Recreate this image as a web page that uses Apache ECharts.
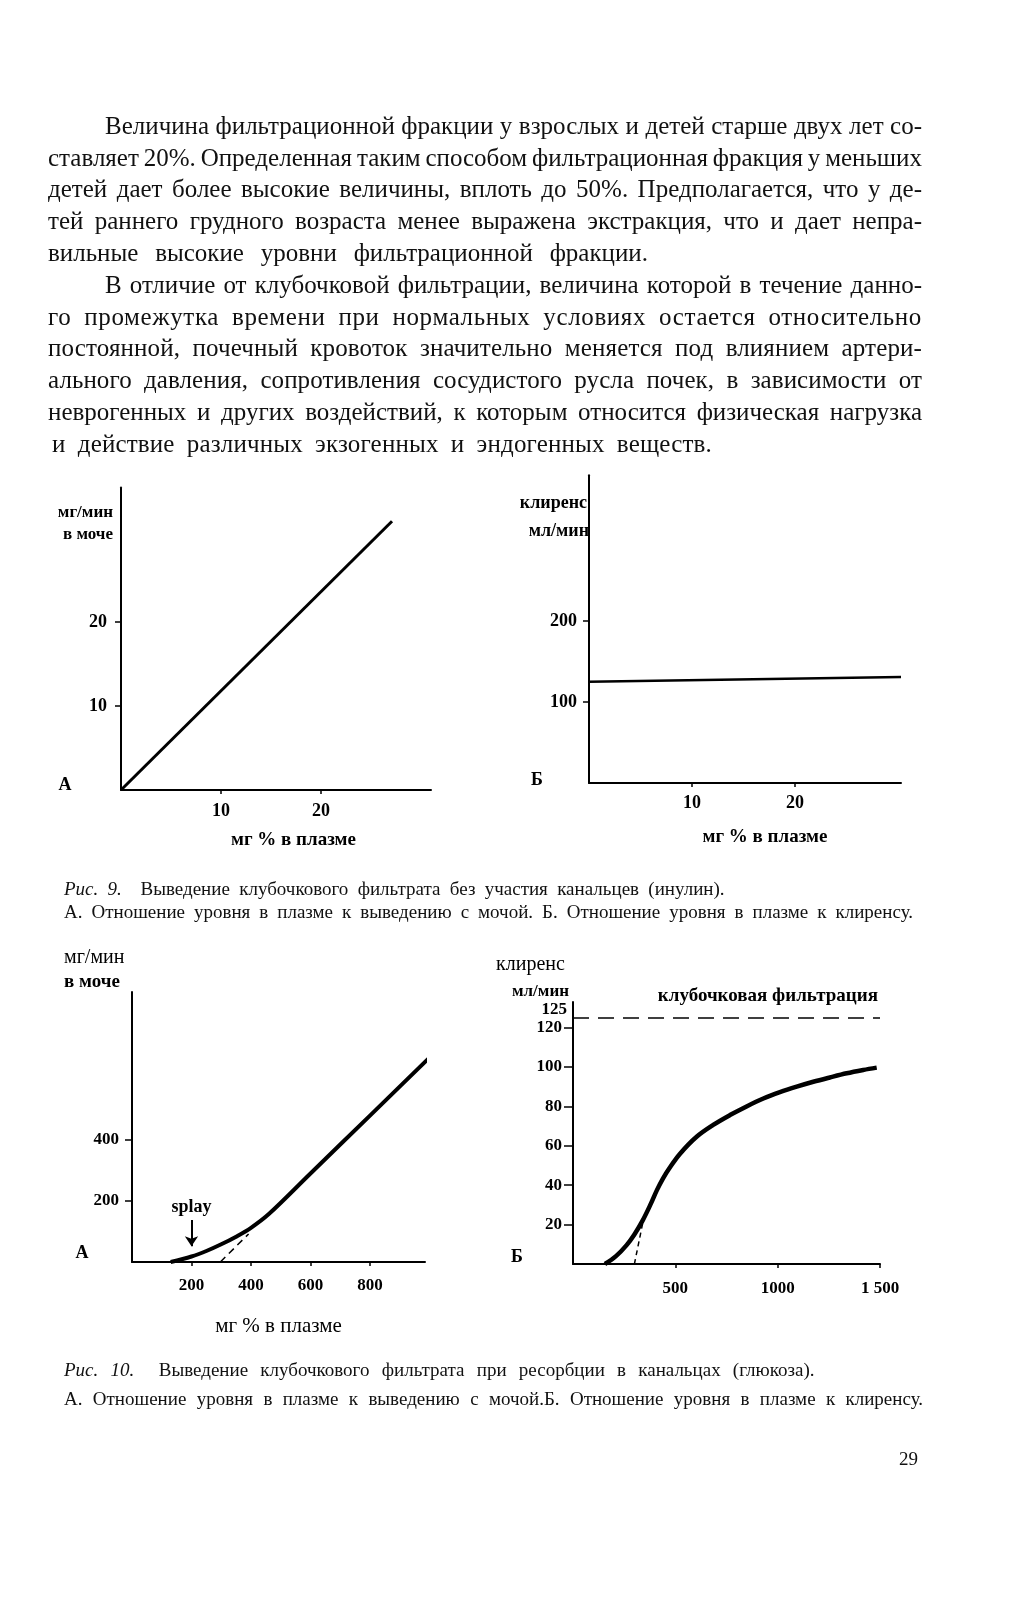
<!DOCTYPE html>
<html><head><meta charset="utf-8">
<script src="https://cdn.jsdelivr.net/npm/echarts@6/dist/echarts.min.js"></script>
<style>
html,body{margin:0;padding:0;background:#fff;}
#page{position:relative;width:1016px;height:1613px;overflow:hidden;background:#fff;}
#chart{position:absolute;left:0;top:0;width:1016px;height:1613px;}
#txt{position:absolute;left:0;top:0;width:1016px;height:1613px;pointer-events:none;}
.ln{position:absolute;white-space:nowrap;color:#111;font-family:"Liberation Serif","Times New Roman",serif;transform-origin:0 50%;}
</style></head><body>
<div id="page"><div id="chart"></div><div id="txt"></div></div>
<script>
// ---------------- DATA ----------------
const paragraph1 = [
  'Величина фильтрационной фракции у взрослых и детей старше двух лет со-',
  'ставляет 20%. Определенная таким способом фильтрационная фракция у меньших',
  'детей дает более высокие величины, вплоть до 50%. Предполагается, что у де-',
  'тей раннего грудного возраста менее выражена экстракция, что и дает непра-',
  'вильные высокие уровни фильтрационной фракции.'
];
const paragraph2 = [
  'В отличие от клубочковой фильтрации, величина которой в течение данно-',
  'го промежутка времени при нормальных условиях остается относительно',
  'постоянной, почечный кровоток значительно меняется под влиянием артери-',
  'ального давления, сопротивления сосудистого русла почек, в зависимости от',
  'неврогенных и других воздействий, к которым относится физическая нагрузка',
  'и действие различных экзогенных и эндогенных веществ.'
];
const fig9Title = 'Рис. 9.';
const fig9Text = 'Выведение клубочкового фильтрата без участия канальцев (инулин).';
const fig9Legend = 'А. Отношение уровня в плазме к выведению с мочой. Б. Отношение уровня в плазме к клиренсу.';
const fig10Title = 'Рис. 10.';
const fig10Text = 'Выведение клубочкового фильтрата при ресорбции в канальцах (глюкоза).';
const fig10Legend = 'А. Отношение уровня в плазме к выведению с мочой.Б. Отношение уровня в плазме к клиренсу.';
const pageNumber = '29';

// Fig. 9A: excretion (mg/min in urine) vs plasma level (mg %)
const fig9aLine = [[0, 0], [27.1, 32.0]];
const fig9aXTicks = [10, 20];
const fig9aYTicks = [10, 20];
const fig9aYName = ['мг/мин', 'в моче'];
const fig9aXName = 'мг % в плазме';

// Fig. 9Б: clearance (ml/min) vs plasma level
const fig9bLine = [[0, 125], [30.3, 131]];
const fig9bXTicks = [10, 20];
const fig9bYTicks = [100, 200];
const fig9bYName = ['клиренс', 'мл/мин'];
const fig9bXName = 'мг % в плазме';

// Fig. 10A: glucose excretion vs plasma level
const fig10aCurve = [[130, 0], [200, 18], [250, 36], [300, 58], [350, 83], [400, 112], [460, 157], [600, 290], [800, 480], [1042, 710]];
const fig10aDashed = [[297, 0], [392, 92]];
const fig10aSplay = [[200, 138], [200, 52]];
const fig10aXTicks = [200, 400, 600, 800];
const fig10aYTicks = [200, 400];
const fig10aYName = ['мг/мин', 'в моче'];
const fig10aXName = 'мг % в плазме';

// Fig. 10Б: glucose clearance vs plasma level
const fig10bCurve = [[156, 0], [210, 4], [262, 9.6], [300, 15], [340, 22], [380, 30.5], [410, 37.5], [440, 43.5], [470, 48.5], [523, 56], [604, 64.6], [685, 70.6], [767, 75.6], [848, 80], [930, 84], [1011, 87.2], [1093, 90], [1174, 92.5], [1255, 94.7], [1337, 96.8], [1418, 98.5], [1484, 99.7]];
const fig10bDashed = [[300, 0], [343, 22]];
const fig10bGFR = 125;
const fig10bGFRLabel = 'клубочковая фильтрация';
const fig10bXTicks = [500, 1000, 1500];
const fig10bXLabels = ['500', '1000', '1 500'];
const fig10bYTicks = [20, 40, 60, 80, 100, 120];
const fig10bYName = ['клиренс', 'мл/мин'];
const panelLetters = ['А', 'Б', 'А', 'Б'];

// ---------------- TEXT (HTML) ----------------
const txt = document.getElementById('txt');
function placeText(html, x, yc, size, o) {
  const d = document.createElement('div');
  d.className = 'ln';
  d.style.left = x + 'px';
  d.style.fontSize = size + 'px';
  d.style.lineHeight = Math.round(size * 1.3) + 'px';
  d.style.top = (yc - size * 0.65) + 'px';
  let ls = o.ls || 0;
  d.style.letterSpacing = ls + 'px';
  d.innerHTML = html;
  txt.appendChild(d);
  const meas = () => d.getBoundingClientRect().width;
  let nat = meas();
  const s = (d.textContent.match(/ /g) || []).length;
  const n = d.textContent.length;
  if (o.justify && o.w) {
    let extra = o.w - nat;
    if (extra > 0 && o.maxWs != null && s > 0) {
      const wsE = Math.min(extra / s, o.maxWs);
      const rem = extra - wsE * s;
      if (rem > 0) { ls = ls + rem / n; d.style.letterSpacing = ls + 'px'; }
      nat = meas();
    }
    const ws = s ? (o.w - nat) / s : 0;
    if (ws >= -1.5) d.style.wordSpacing = ws + 'px';
    else d.style.transform = 'scaleX(' + (o.w / nat) + ')';
  } else if (o.w && nat > o.w) {
    d.style.transform = 'scaleX(' + (o.w / nat) + ')';
  }
  return ls;
}
const bodySize = 25, bodyLeft = 48, bodyRight = 922, bodyIndent = 57, bodyTop = 125, bodyStep = 31.8;
function layParagraph(lines, startIdx, lastRight, lastShift) {
  let sum = 0, cnt = 0;
  lines.forEach((t, i) => {
    const yc = bodyTop + (startIdx + i) * bodyStep;
    const x = bodyLeft + (i === 0 ? bodyIndent : 0);
    if (i < lines.length - 1) {
      sum += placeText(t, x, yc, bodySize, {w: bodyRight - x, justify: true, ls: 0, maxWs: 6});
      cnt++;
    }
  });
  const avg = cnt ? sum / cnt : 0;
  const i = lines.length - 1;
  const x = bodyLeft + (i === 0 ? bodyIndent : 0) + lastShift;
  placeText(lines[i], x, bodyTop + (startIdx + i) * bodyStep, bodySize, {w: lastRight - x, justify: true, ls: avg});
}
layParagraph(paragraph1, 0, 648, 0);
layParagraph(paragraph2, paragraph1.length, 712, 4);

function layCaption(title, text, legend, y1, y2, right1, right2) {
  const ls = placeText(legend, 64, y2, 19, {w: right2 - 64, justify: true, ls: 0, maxWs: 6});
  placeText('<i>' + title + '</i>&nbsp; ' + text, 64, y1, 19, {w: right1 - 64, justify: true, ls: ls});
}
layCaption(fig9Title, fig9Text, fig9Legend, 888, 911, 720, 913);
layCaption(fig10Title, fig10Text, fig10Legend, 1369, 1398, 807, 923);
placeText(pageNumber, 899, 1458, 19, {});

// ---------------- CHART ----------------
const FONT = '"Liberation Serif","Times New Roman",serif';
const black = '#000';
function xAxisCfg(g, max, ticks, name, nameGap, namePad, nameStyle, labelFmt, labelSize, labelMargin) {
  return {
    gridIndex: g, type: 'value', min: 0, max: max,
    name: name || '', nameLocation: 'middle', nameGap: nameGap,
    nameTextStyle: Object.assign({color: black, fontFamily: FONT, padding: namePad}, nameStyle || {}),
    axisLine: {show: true, onZero: false, lineStyle: {color: black, width: 2}},
    axisTick: {show: true, customValues: ticks, length: 4, lineStyle: {color: black, width: 1.5}},
    axisLabel: {show: true, customValues: ticks, margin: labelMargin, color: black, fontFamily: FONT, fontWeight: 'bold', fontSize: labelSize, formatter: labelFmt},
    splitLine: {show: false}
  };
}
function yAxisCfg(g, max, ticks, margin, tickLen, labelSize) {
  return {
    gridIndex: g, type: 'value', min: 0, max: max,
    axisLine: {show: true, onZero: false, lineStyle: {color: black, width: 2}},
    axisTick: {show: true, customValues: ticks, length: tickLen, lineStyle: {color: black, width: 1.5}},
    axisLabel: {show: true, customValues: ticks, margin: margin, color: black, fontFamily: FONT, fontWeight: 'bold', fontSize: labelSize},
    splitLine: {show: false}
  };
}
function gtext(str, x, y, align, size, weight) {
  return {type: 'text', x: x, y: y, silent: true,
    style: {text: str, fill: black, font: (weight || 'bold') + ' ' + size + 'px ' + FONT, align: align, verticalAlign: 'middle'}};
}
const option = {
  backgroundColor: '#fff',
  animation: false,
  grid: [
    {left: 121, top: 487.6, width: 310, height: 302.4, outerBoundsMode: 'none'},
    {left: 589, top: 475.2, width: 312, height: 307.8, outerBoundsMode: 'none'},
    {left: 132, top: 992, width: 293, height: 270, outerBoundsMode: 'none'},
    {left: 573, top: 1002, width: 307, height: 262, outerBoundsMode: 'none'}
  ],
  xAxis: [
    xAxisCfg(0, 31, fig9aXTicks, fig9aXName, 41, [0, 0, 0, 35], {fontWeight: 'bold', fontSize: 19}, null, 18, 12),
    xAxisCfg(1, 30.3, fig9bXTicks, fig9bXName, 45, [0, 0, 0, 40], {fontWeight: 'bold', fontSize: 19}, null, 18, 11),
    xAxisCfg(2, 985, fig10aXTicks, fig10aXName, 54, [0, 0, 0, 0], {fontSize: 21}, null, 17, 15),
    xAxisCfg(3, 1500, fig10bXTicks, '', 0, [0, 0, 0, 0], null, function (v) { const i = fig10bXTicks.indexOf(v); return i >= 0 ? fig10bXLabels[i] : ''; }, 17, 16)
  ],
  yAxis: [
    yAxisCfg(0, 36, fig9aYTicks, 14, 6, 18),
    yAxisCfg(1, 380, fig9bYTicks, 12, 6, 18),
    yAxisCfg(2, 885, fig10aYTicks, 13, 7, 17),
    yAxisCfg(3, 133, fig10bYTicks, 11, 9, 17)
  ],
  series: [
    {type: 'line', xAxisIndex: 0, yAxisIndex: 0, data: fig9aLine, symbol: 'none', silent: true,
      lineStyle: {color: black, width: 3}},
    {type: 'line', xAxisIndex: 1, yAxisIndex: 1, data: fig9bLine, symbol: 'none', silent: true,
      lineStyle: {color: black, width: 2.5}},
    {type: 'line', xAxisIndex: 2, yAxisIndex: 2, data: fig10aCurve, symbol: 'none', silent: true, clip: false,
      smooth: 0.35, lineStyle: {color: black, width: 4},
      markLine: {silent: true, symbol: ['none', 'arrow'], symbolSize: 10,
        lineStyle: {type: 'solid', color: black, width: 2},
        label: {show: true, position: 'start', formatter: 'splay', color: black, fontFamily: FONT, fontWeight: 'bold', fontSize: 18, distance: 4},
        data: [[{coord: fig10aSplay[0]}, {coord: fig10aSplay[1]}]]}},
    {type: 'line', xAxisIndex: 2, yAxisIndex: 2, data: fig10aDashed, symbol: 'none', silent: true,
      lineStyle: {color: black, width: 1.5, type: [7, 5]}},
    {type: 'line', xAxisIndex: 3, yAxisIndex: 3, data: fig10bCurve, symbol: 'none', silent: true,
      smooth: 0.35, lineStyle: {color: black, width: 4.5},
      markLine: {silent: true, symbol: ['none', 'none'],
        lineStyle: {type: [16, 9], color: black, width: 1.5},
        data: [
          {yAxis: fig10bGFR, label: {show: true, position: 'start', formatter: String(fig10bGFR) + '\n ', lineHeight: 16, color: black, fontFamily: FONT, fontWeight: 'bold', fontSize: 17, distance: 6}},
          {yAxis: fig10bGFR, lineStyle: {color: 'rgba(0,0,0,0)', width: 0}, label: {show: true, position: 'insideEndTop', formatter: fig10bGFRLabel, color: black, fontFamily: FONT, fontWeight: 'bold', fontSize: 19, distance: 2, padding: [0, 0, 10, 0]}}
        ]}},
    {type: 'line', xAxisIndex: 3, yAxisIndex: 3, data: fig10bDashed, symbol: 'none', silent: true,
      lineStyle: {color: black, width: 1.5, type: [5, 4]}}
  ],
  graphic: [
    gtext(fig9aYName[0], 113, 513, 'right', 17),
    gtext(fig9aYName[1], 113, 535, 'right', 17),
    gtext(fig9bYName[0], 587, 503, 'right', 18),
    gtext(fig9bYName[1], 589, 531, 'right', 18),
    gtext(fig10aYName[0], 64, 958, 'left', 20, 'normal'),
    gtext(fig10aYName[1], 64, 982, 'left', 19),
    gtext(fig10bYName[0], 496, 965, 'left', 20, 'normal'),
    gtext(fig10bYName[1], 569, 992, 'right', 17),
    gtext(panelLetters[0], 65, 785, 'center', 18),
    gtext(panelLetters[1], 537, 780, 'center', 18),
    gtext(panelLetters[2], 82, 1253, 'center', 18),
    gtext(panelLetters[3], 517, 1257, 'center', 18)
  ]
};
const chart = echarts.init(document.getElementById('chart'), null, {renderer: 'canvas', width: 1016, height: 1613});
chart.setOption(option);
</script>
</body></html>
